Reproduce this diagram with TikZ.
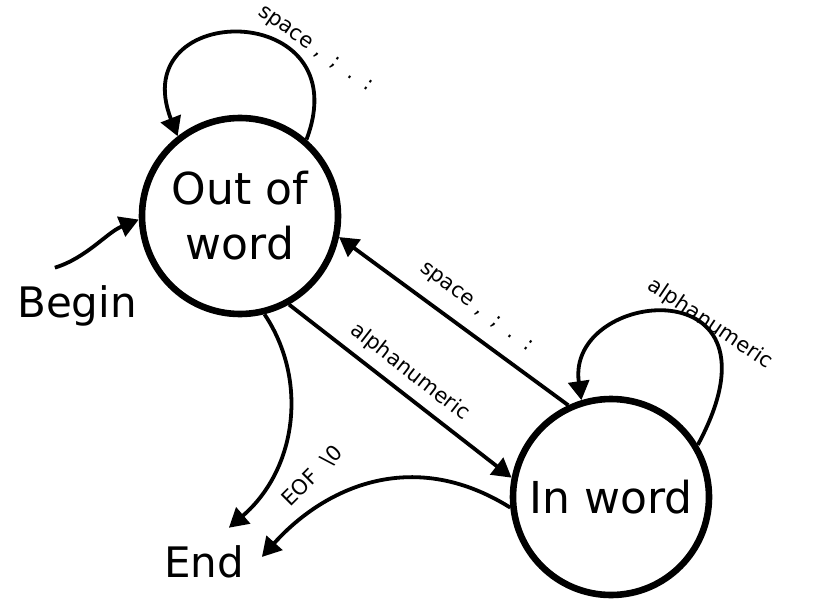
\documentclass[tikz,border=0pt]{standalone}
\usepackage{fontspec}
\setmainfont{DejaVu Sans}
\usetikzlibrary{arrows.meta}

\begin{document}
\begin{tikzpicture}[x=0.5pt,y=-0.5pt,
    state/.style={circle,draw,line width=3.3pt,minimum size=98pt,inner sep=0pt,align=center,font=\fontsize{22}{27.5}\selectfont},
    term/.style={inner sep=9pt,outer sep=0pt,font=\fontsize{21}{25}\selectfont},
    trans/.style={line width=1.9pt,-{Triangle[length=9.5pt,width=10.5pt]}},
    lbl/.style={inner sep=0pt,font=\fontsize{10.5}{12}\selectfont}]
    \useasboundingbox (0,0) rectangle (839,610);

    % States
    \node[state] (out) at (240,216) {Out of\\word};
    \node[state] (in) at (611,497) {In word};
    \node[term] (begin) at (77,306) {Begin};
    \node[term] (end) at (204,562) {End};

    % Start arrow
    \draw[trans] (begin.120) .. controls +(32,-10) and +(-32,13) .. (out.182);

    % Loops
    \draw[trans] (out.49) .. controls +(53.5,-140.5) and +(-53.6,-137.2) .. (out.128);
    \draw[trans] (in.31) .. controls +(97,-180) and +(-16,-112) .. (in.107);

    % Between the states
    \draw[trans] (out.-61) -- (in.169);
    \draw[trans] (in.115) -- (out.-12);

    % To the end
    \draw[trans] (out.-76) .. controls +(44,65.7) and +(68,-58.5) .. (end.54);
    \draw[trans] (in.186) .. controls +(-100,-62.6) and +(60,-67) .. (end.5);

    % Labels
    \node[lbl,rotate=-35] (sploop) at (315,50) {space\ ,\ \ ;\ \ .\ \ :};
    \node[lbl,rotate=-37] (spback) at (476,308) {space\ ,\ \ ;\ \ .\ \ :};
    \node[lbl,rotate=-38] (alnum) at (410,372) {alphanumeric};
    \node[lbl,rotate=-34] (alloop) at (710,324) {alphanumeric};
    \node[lbl,rotate=45] (eof) at (312,476) {EOF\ \ \textbackslash 0};
\end{tikzpicture}
\end{document}
